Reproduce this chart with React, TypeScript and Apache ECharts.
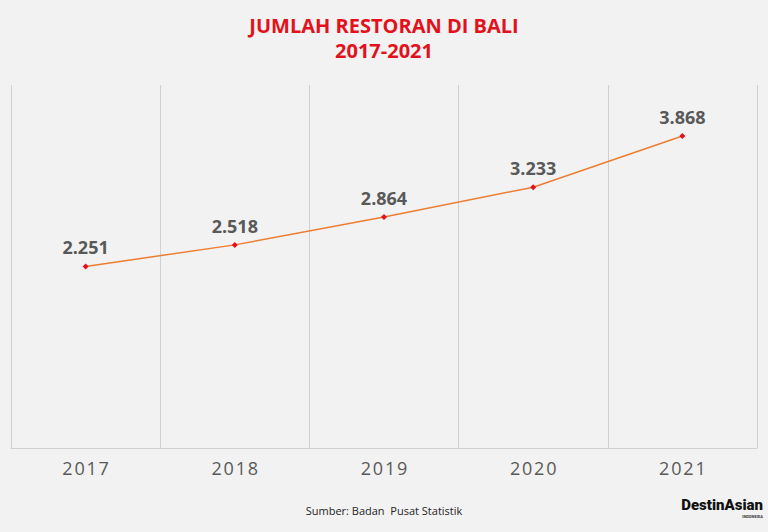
import React, { useEffect, useRef } from "react";
import * as echarts from "echarts";

const years = ["2017", "2018", "2019", "2020", "2021"];
const restaurants = [2251, 2518, 2864, 3233, 3868];
const titleLines = ["JUMLAH RESTORAN DI BALI", "2017-2021"];
const sourceText = "Sumber: Badan  Pusat Statistik";

const fmt = (v: number) => v.toLocaleString("de-DE");

export default function App() {
  const ref = useRef<HTMLDivElement>(null);
  useEffect(() => {
    document.body.style.margin = "0";
    const chart = echarts.init(ref.current!, null, { renderer: "svg" });
    chart.setOption({
      animation: false,
      backgroundColor: "#f2f2f2",
      title: {
        text: titleLines.join("\n"),
        left: "center",
        top: 8,
        textStyle: {
          color: "#e3111b",
          fontSize: 20,
          fontWeight: "bold",
          fontFamily: "Open Sans",
          lineHeight: 25,
        },
      },
      grid: { left: 11, right: 11, top: 85, bottom: 84 },
      xAxis: {
        type: "category",
        data: years,
        boundaryGap: true,
        axisLine: { show: true, lineStyle: { color: "#d0d0d0", width: 1 } },
        axisTick: { show: false },
        splitLine: { show: true, lineStyle: { color: "#d0d0d0", width: 1 } },
        axisLabel: {
          color: "#595959",
          fontSize: 18,
          fontFamily: "Open Sans",
          margin: 11,
          formatter: (v: string) => v.split("").join("\u200A"),
        },
      },
      yAxis: {
        type: "value",
        min: 0,
        max: 4500,
        show: false,
        splitLine: { show: false },
      },
      series: [
        {
          type: "line",
          data: restaurants,
          symbol: "diamond",
          symbolSize: 6,
          itemStyle: { color: "#e3111b" },
          lineStyle: { color: "#ed7d31", width: 1.5 },
          label: {
            show: true,
            position: "top",
            distance: 7,
            color: "#595959",
            fontSize: 18,
            fontWeight: "bold",
            fontFamily: "Open Sans",
            formatter: (p: any) => fmt(p.value),
          },
        },
      ],
      graphic: [
        {
          type: "rect",
          left: 11,
          top: 85,
          shape: { width: 1, height: 363 },
          style: { fill: "#d0d0d0" },
          silent: true,
        },
        {
          type: "text",
          left: "center",
          top: 505,
          style: {
            text: sourceText,
            fill: "#262626",
            fontSize: 11,
            fontFamily: "Open Sans",
          },
        },
        {
          type: "text",
          right: 5,
          top: 497,
          style: {
            text: "DestinAsian",
            fill: "#111111",
            fontSize: 15,
            fontWeight: 900,
            fontFamily: "Roboto",
          },
        },
        {
          type: "text",
          right: 5,
          top: 514,
          style: {
            text: "INDONESIA",
            fill: "#333333",
            fontSize: 4,
            fontWeight: "bold",
            fontFamily: "Roboto",
          },
        },
      ],
    });
    return () => chart.dispose();
  }, []);
  return (
    <div
      ref={ref}
      style={{ position: "fixed", left: 0, top: 0, width: 768, height: 532 }}
    />
  );
}
